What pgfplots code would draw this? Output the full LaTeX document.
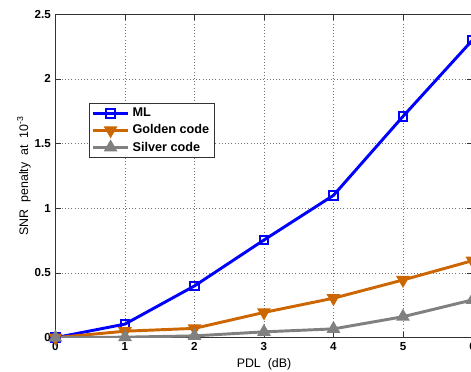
\documentclass[border=0pt]{standalone}
\usepackage{fontspec}
\setmainfont{Liberation Sans}
\usepackage{pgfplots}
\pgfplotsset{compat=1.18}
\definecolor{mlblue}{RGB}{0,0,255}
\definecolor{gold}{RGB}{204,102,0}
\definecolor{silv}{RGB}{128,128,128}
\begin{document}
\begin{tikzpicture}
\begin{axis}[
  scale only axis,
  width=312.75pt, height=242.6pt,
  xmin=0, xmax=6, ymin=0, ymax=2.5,
  xtick={0,1,2,3,4,5,6},
  ytick={0,0.5,1,1.5,2,2.5},
  yticklabels={0,0.5,1,1.5,2,2.5},
  xticklabels={0,1,2,3,4,5,6},
  tick align=inside,
  tick pos=both,
  major tick length=4pt,
  tick style={black!80, line width=0.5pt},
  axis line style={black!80, line width=0.6pt},
  grid=major,
  grid style={black!55, dotted, line width=0.5pt},
  tick label style={font=\fontsize{8.7}{10}\selectfont\bfseries},
  /pgf/number format/assume math mode=true,
  xlabel={PDL\ \ (dB)},
  ylabel={SNR\ \ penalty\ \ at\ \ 10\textsuperscript{-3}},
  label style={font=\fontsize{9.3}{10}\selectfont},
  xlabel style={yshift=1pt},
  ylabel style={yshift=-4pt},
  legend cell align=left,
  legend style={at={(rel axis cs:0.0803,0.7255)}, anchor=north west,
    font=\fontsize{9.5}{11}\selectfont\bfseries, draw=black!80, line width=0.5pt,
    inner sep=1.5pt, row sep=0.5pt},
  legend image code/.code={\draw[mark repeat=2,mark phase=2] plot coordinates {(0cm,0cm) (0.47cm,0cm) (0.94cm,0cm)};},
]
\addplot[color=mlblue, line width=2.2pt, mark=square, mark size=3.2pt, mark options={line width=1.5pt, solid}]
  coordinates {(0,0) (1,0.105) (2,0.40) (3,0.755) (4,1.10) (5,1.71) (6,2.30)};
\addlegendentry{ML}
\addplot[color=gold, line width=2.2pt, mark=triangle*, mark size=3.8pt, mark options={rotate=180, solid}]
  coordinates {(0,0) (1,0.05) (2,0.072) (3,0.195) (4,0.305) (5,0.446) (6,0.595)};
\addlegendentry{Golden code}
\addplot[color=silv, line width=2.2pt, mark=triangle*, mark size=3.8pt, mark options={solid}]
  coordinates {(0,0) (1,0.004) (2,0.014) (3,0.045) (4,0.068) (5,0.162) (6,0.292)};
\addlegendentry{Silver code}
\end{axis}
\pgfresetboundingbox
\path ([xshift=-41.6pt, yshift=-25.7pt]current axis.south west) rectangle ([xshift=-1.1pt, yshift=10.65pt]current axis.north east);
\end{tikzpicture}
\end{document}
